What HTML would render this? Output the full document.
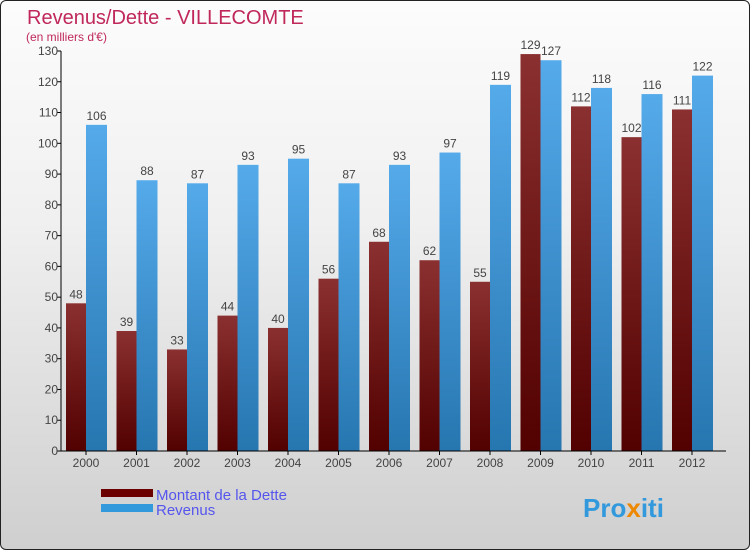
<!DOCTYPE html>
<html><head><meta charset="utf-8"><style>
body{margin:0}
#c{width:748px;height:548px;border:1px solid #222;border-radius:6px;overflow:hidden;background:linear-gradient(#fcfcfc,#f0f0f0 40%,#cfcfcf);position:relative;font-family:"Liberation Sans",sans-serif}
</style></head><body>
<div id="c">
<svg width="748" height="548" id="svg">
<defs>
<linearGradient id="gd" x1="0" y1="0" x2="0" y2="1"><stop offset="0" stop-color="#8b3030"/><stop offset="1" stop-color="#520000"/></linearGradient>
<linearGradient id="gr" x1="0" y1="0" x2="0" y2="1"><stop offset="0" stop-color="#55aaea"/><stop offset="1" stop-color="#2676b0"/></linearGradient>
</defs>
<text x="26" y="23" font-size="20" fill="#c0285a">Revenus/Dette - VILLECOMTE</text>
<text x="25" y="40" font-size="12" fill="#c0285a">(en milliers d'€)</text>
<g id="plot"></g>
<rect x="100" y="488" width="52" height="8" fill="#6a0000"/>
<rect x="100" y="503" width="52" height="8" fill="#3399dd"/>
<text x="155" y="499" font-size="15" fill="#5555ee">Montant de la Dette</text>
<text x="155" y="514" font-size="15" fill="#5555ee">Revenus</text>
<text x="582" y="516" font-size="26" font-weight="bold" fill="#3399dd">Pro<tspan fill="#ee8800">x</tspan>iti</text>
</svg>
</div>
<script>
const years=["2000","2001","2002","2003","2004","2005","2006","2007","2008","2009","2010","2011","2012"];
const dette=[48,39,33,44,40,56,68,62,55,129,112,102,111];
const revenus=[106,88,87,93,95,87,93,97,119,127,118,116,122];
const yTicks=[0,10,20,30,40,50,60,70,80,90,100,110,120,130];
const NS="http://www.w3.org/2000/svg";
const g=document.getElementById('plot');
const y=v=>450-v*400/130;
const xc=i=>85+i*50.5;
function mk(t,a){const e=document.createElementNS(NS,t);for(const k in a)e.setAttribute(k,a[k]);g.appendChild(e);return e;}
yTicks.forEach(v=>{
 const l=mk('line',{x1:56,x2:60,y1:y(v),y2:y(v),stroke:'#000'});
 
 
 const t=mk('text',{x:57,y:y(v)+4,'font-size':12,'text-anchor':'end',fill:'#444'});t.textContent=v;
 
 
});
years.forEach((yr,i)=>{
 const c=xc(i);
 const b1=mk('rect',{x:c-20,y:y(dette[i]),width:20,height:450-y(dette[i]),fill:'url(#gd)'});
 
 
 const b2=mk('rect',{x:c,y:y(revenus[i]),width:21,height:450-y(revenus[i]),fill:'url(#gr)'});
 
 
 const t1=mk('text',{x:c-10,y:y(dette[i])-5,'font-size':12,'text-anchor':'middle',fill:'#444'});t1.textContent=dette[i];
 
 
 const t2=mk('text',{x:c+10.5,y:y(revenus[i])-5,'font-size':12,'text-anchor':'middle',fill:'#444'});t2.textContent=revenus[i];
 
 
 const tk=mk('line',{x1:c,x2:c,y1:450,y2:454,stroke:'#000'});
 
 
 const xl=mk('text',{x:c,y:466,'font-size':12,'text-anchor':'middle',fill:'#444'});xl.textContent=yr;
 
 
});
const ya=mk('line',{x1:60,x2:60,y1:50,y2:450,stroke:'#000'});


const xa=mk('line',{x1:60,x2:725,y1:450,y2:450,stroke:'#000'});


</script>
</body></html>
